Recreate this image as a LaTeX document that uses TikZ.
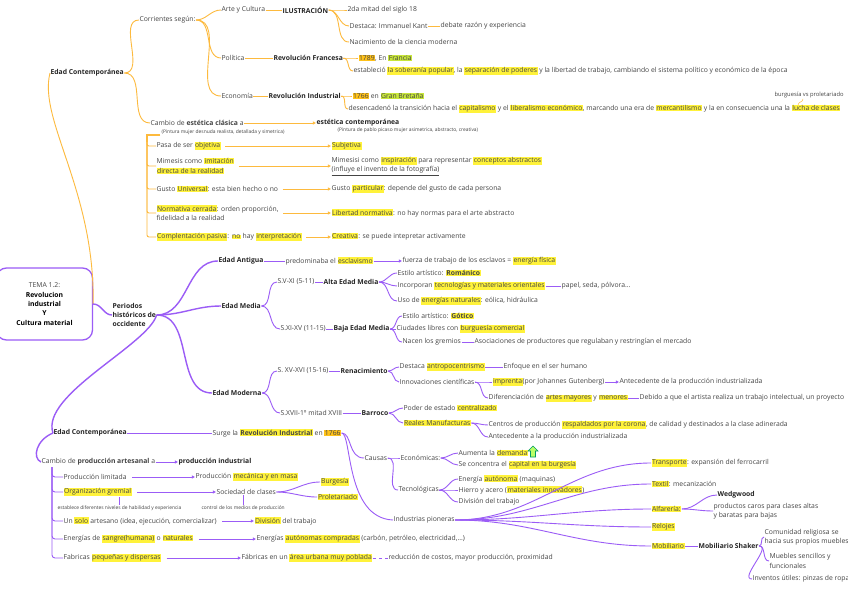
\documentclass[tikz,border=0pt]{standalone}
\usepackage{fontspec}
\setmainfont{Open Sans}
\usetikzlibrary{arrows.meta}
\definecolor{orl}{HTML}{FDBA3E}
\definecolor{pur}{HTML}{9B5CF6}
\definecolor{hly}{HTML}{FFF23A}
\definecolor{hlo}{HTML}{FFC21A}
\definecolor{hlg}{HTML}{C8E63A}
\definecolor{txt}{HTML}{444444}
\newcommand\hy[1]{{\setlength{\fboxsep}{0.5pt}\colorbox{hly}{#1}}}
\newcommand\ho[1]{{\setlength{\fboxsep}{0.5pt}\colorbox{hlo}{#1}}}
\newcommand\hg[1]{{\setlength{\fboxsep}{0.5pt}\colorbox{hlg}{#1}}}
\newcommand\fsz{\fontsize{6.8}{9.3}\selectfont}
\begin{document}
\begin{tikzpicture}[x=1pt,y=-1pt,
  tx/.style={anchor=west,inner sep=0.4pt,text=txt,font=\fsz,align=left},
  bx/.style={tx,font=\fsz\bfseries,text=black!85},
  tn/.style={tx,font=\fontsize{4.9}{5.5}\selectfont},
  ol/.style={draw=orl,line width=0.9pt},
  pl/.style={draw=pur,line width=0.9pt},
  plt/.style={draw=pur,line width=1.4pt},
  arr/.style={-{Triangle[length=3.2pt,width=3pt]}},
  cv/.style={out=0,in=180}]
\useasboundingbox (0,0) rectangle (848,599);
\fill[white] (0,0) rectangle (848,599);

% ---------------- top (orange) ----------------
\node[bx] (EC1) at (50,73) {Edad Contemporánea};
\node[tx] (corr) at (139,20) {Corrientes según:};
\node[tx] (arte) at (221,10) {Arte y Cultura};
\node[tx] (pol) at (221,58) {Política};
\node[tx] (eco) at (221,96) {Economía};
\node[bx] (ilus) at (282,10) {ILUSTRACIÓN};
\node[tx] (s18) at (347,10) {2da mitad del siglo 18};
\node[tx] (kant) at (349,26) {Destaca: Immanuel Kant};
\node[tx] (deb) at (440,26) {debate razón y experiencia};
\node[tx] (nac) at (349,42) {Nacimiento de la ciencia moderna};
\node[bx] (rf) at (273,58) {Revolución Francesa};
\node[tx] (r89) at (358,58) {\ho{1789}, En \hg{Francia}};
\node[tx] (est) at (353,71) {estableció \hy{la soberanía popular}, la \hy{separación de poderes} y la libertad de trabajo, cambiando el sistema político y económico de la época};
\node[bx] (ri) at (268,96) {Revolución Industrial};
\node[tx] (r66) at (352,96) {\ho{1766} en \hg{Gran Bretaña}};
\node[tx] (des) at (348,109) {desencadenó la transición hacia el \hy{capitalismo} y el \hy{liberalismo económico}, marcando una era de \hy{mercantilismo} y la en consecuencia una la \hy{lucha de clases}};
\node[tx,font=\fontsize{5.8}{6.5}\selectfont] (bvp) at (774,95) {burguesía vs proletariado};
\coordinate (lc) at (798,105);
\coordinate (lt) at (803,99);
\node[tx] (cea) at (150,123) {Cambio de \textbf{estética clásica} a};
\node[bx] (ecn) at (316,123) {estética contemporánea};
\node[tn] (n1) at (161,132) {(Pintura mujer desnuda realista, detallada y simetrica)};
\node[tn] (n2) at (337,130) {(Pintura de pablo picaso mujer asimetrica, abstracto, creativa)};

\node[tx] (L1) at (156,146) {Pasa de ser \hy{objetiva}};
\node[tx] (L2) at (156,166) {Mimesis como \hy{imitación}\\\hy{directa de la realidad}};
\node[tx] (L3) at (156,189) {Gusto \hy{Universal}: esta bien hecho o no};
\node[tx] (L4) at (156,213) {\hy{Normativa cerrada}: orden proporción,\\fidelidad a la realidad};
\node[tx] (L5) at (156,237) {\hy{Complentación pasiva}: \hy{no} hay \hy{interpretación}};
\node[tx] (R1) at (331,146) {\hy{Subjetiva}};
\node[tx] (R2) at (331,166) {Mimesisi como \hy{inspiración} para representar \hy{conceptos abstractos}\\\underline{(influye el invento de la fotografía)}};
\node[tx] (R3) at (331,189) {Gusto \hy{particular}: depende del gusto de cada persona};
\node[tx] (R4) at (331,213) {\hy{Libertad normativa}: no hay normas para el arte abstracto};
\node[tx] (R5) at (331,237) {\hy{Creativa}: se puede intepretar activamente};

\draw[ol] (EC1.east) to[cv] (corr.west);
\draw[ol] (EC1.east) to[cv] (cea.west);
\foreach \c in {arte,pol,eco} \draw[ol] (corr.east) to[cv] (\c.west);
\draw[ol] (arte.east) -- (ilus.west);
\foreach \c in {s18,kant,nac} \draw[ol] (ilus.east) to[cv] (\c.west);
\draw[ol] (kant.east) -- (deb.west);
\draw[ol] (pol.east) -- (rf.west);
\foreach \c in {r89,est} \draw[ol] (rf.east) to[cv] (\c.west);
\draw[ol] (eco.east) -- (ri.west);
\foreach \c in {r66,des} \draw[ol] (ri.east) to[cv] (\c.west);
\draw[ol,line width=0.5pt] (lc) to[out=90,in=270] (lt);
\draw[ol,arr] (cea.east) -- (ecn.west);
\coordinate (bk) at (147,135);
\draw[ol,line width=1.6pt] (160,135) -- (bk) -- (147,142);
\foreach \c in {L1,L2,L3,L4,L5} \draw[ol,rounded corners=2pt] (bk) |- (\c.west);
\foreach \i in {1,...,5} \draw[ol,arr,shorten <=4pt] (L\i.east) -- (R\i.west);

% ---------------- center ----------------
\node[draw=pur,line width=1.3pt,rounded corners=10pt,minimum width=96,minimum height=72,
      font=\fsz,align=center,inner sep=1pt] (tema) at (44.5,304)
      {\textcolor{txt}{TEMA 1.2:}\\\textbf{Revolucion}\\\textbf{industrial}\\\textbf{Y}\\\textbf{Cultura material}};
\draw[ol] (tema.east) .. controls (95,190) and (38,120) .. (EC1.west);
\node[bx] (per) at (112,315) {Periodos\\históricos de\\occidente};
\draw[plt] (tema.east) to[cv] (per.west);

\node[bx] (ant) at (218,261) {Edad Antigua};
\node[bx] (med) at (221,306) {Edad Media};
\node[bx] (mod) at (212,393) {Edad Moderna};
\node[bx] (ec2) at (53,433) {Edad Contemporánea};
\draw[plt] (per.east) to[cv] (ant.west);
\draw[plt] (per.east) to[cv] (med.west);
\draw[plt] (per.east) to[cv] (mod.west);
\draw[plt] (per.east) .. controls (148,345) and (40,395) .. (ec2.west);

% Edad Antigua
\node[tx] (pre) at (285,261) {predominaba el \hy{esclavismo}};
\node[tx] (fue) at (402,261) {fuerza de trabajo de los esclavos = \hy{energía física}};
\draw[pl] (ant.east) -- (pre.west);
\draw[pl,arr] (pre.east) -- (fue.west);

% Edad Media
\node[tx] (s511) at (277,282) {S.V-XI (5-11)};
\node[bx] (alta) at (323,282) {Alta Edad Media};
\node[tx] (rom) at (397,273) {Estilo artístico: \hy{\textbf{Románico}}};
\node[tx] (inc) at (397,286) {Incorporan \hy{tecnologías y materiales orientales}};
\node[tx] (pap) at (561,286) {papel, seda, pólvora...};
\node[tx] (uso) at (397,301) {Uso de \hy{energías naturales}: eólica, hidráulica};
\node[tx] (s1115) at (280,329) {S.XI-XV (11-15)};
\node[bx] (baja) at (333,329) {Baja Edad Media};
\node[tx] (got) at (402,316) {Estilo artístico: \hy{\textbf{Gótico}}};
\node[tx] (ciu) at (396,329) {Ciudades libres con \hy{burguesía comercial}};
\node[tx] (nac2) at (402,342) {Nacen los gremios};
\node[tx] (aso) at (474,342) {Asociaciones de productores que regulaban y restringían el mercado};
\draw[pl] (med.east) to[cv] (s511.west);
\draw[pl] (med.east) to[cv] (s1115.west);
\draw[pl] (s511.east) -- (alta.west);
\foreach \c in {rom,inc,uso} \draw[pl] (alta.east) to[cv] (\c.west);
\draw[pl] (inc.east) -- (pap.west);
\draw[pl] (s1115.east) -- (baja.west);
\foreach \c in {got,ciu,nac2} \draw[pl] (baja.east) to[cv] (\c.west);
\draw[pl] (nac2.east) -- (aso.west);

% Edad Moderna
\node[tx] (s1516) at (277,371) {S. XV-XVI (15-16)};
\node[bx] (ren) at (340,371) {Renacimiento};
\node[tx] (dest) at (399,367) {Destaca \hy{antropocentrismo}};
\node[tx] (enf) at (503,367) {Enfoque en el ser humano};
\node[tx] (inn) at (399,382) {Innovaciones científicas};
\node[tx] (imp) at (492,382) {\hy{imprenta}(por Johannes Gutenberg)};
\node[tx] (an2) at (619,382) {Antecedente de la producción industrializada};
\node[tx] (dif) at (488,398) {Diferenciación de \hy{artes mayores} y \hy{menores}};
\node[tx] (deb2) at (639,398) {Debido a que el artista realiza un trabajo intelectual, un proyecto};
\node[tx] (s17) at (280,413) {S.XVII-1º mitad XVIII};
\node[bx] (bar) at (361,413) {Barroco};
\node[tx] (pod) at (403,408) {Poder de estado \hy{centralizado}};
\node[tx] (rea) at (403,423) {\hy{Reales Manufacturas}};
\node[tx] (cen) at (488,425) {Centros de producción \hy{respaldados por la corona}, de calidad y destinados a la clase adinerada};
\node[tx] (an3) at (488,437) {Antecedente a la producción industrializada};
\draw[pl] (mod.east) to[cv] (s1516.west);
\draw[pl] (mod.east) to[cv] (s17.west);
\draw[pl] (s1516.east) -- (ren.west);
\foreach \c in {dest,inn} \draw[pl] (ren.east) to[cv] (\c.west);
\draw[pl] (dest.east) -- (enf.west);
\foreach \c in {imp,dif} \draw[pl] (inn.east) to[cv] (\c.west);
\draw[pl,arr] (imp.east) -- (an2.west);
\draw[pl] (dif.east) -- (deb2.west);
\draw[pl] (s17.east) -- (bar.west);
\foreach \c in {pod,rea} \draw[pl] (bar.east) to[cv] (\c.west);
\foreach \c in {cen,an3} \draw[pl] (rea.east) to[cv] (\c.west);

% Edad Contemporanea
\node[tx] (sur) at (212,433) {Surge la \hy{\textbf{Revolución Industrial}} en \ho{1766}};
\draw[pl] (ec2.east) -- (sur.west);
\node[tx] (cau) at (364,458) {Causas};
\node[tx] (econ) at (400,458) {Económicas:};
\node[tx] (aum) at (458,453) {Aumenta la \hy{demanda}};
\node[tx] (con) at (458,465) {Se concentra el \hy{capital en la burgesía}};
\node[tx] (tec) at (398,490) {Tecnológicas};
\node[tx] (ene) at (458,479) {Energía \hy{autónoma} (maquinas)};
\node[tx] (hie) at (458,490) {Hierro y acero (\hy{materiales innovadores})};
\node[tx] (div) at (458,502) {División del trabajo};
\node[tx] (ind) at (393,520) {Industrias pioneras};
\draw[pl] (sur.east) .. controls (352,433) and (348,458) .. (cau.west);
\draw[pl] (sur.east) .. controls (352,433) and (345,518) .. (ind.west);
\foreach \c in {econ,tec} \draw[pl] (cau.east) to[cv] (\c.west);
\foreach \c in {aum,con} \draw[pl] (econ.east) to[cv] (\c.west);
\foreach \c in {ene,hie,div} \draw[pl] (tec.east) to[cv] (\c.west);
\filldraw[fill=green!45!yellow!60,draw=teal!80!green,line width=0.6pt]
  (533,446) -- (538,451) -- (535.5,451) -- (535.5,457) -- (530.5,457) -- (530.5,451) -- (528,451) -- cycle;

\node[tx] (tra) at (651,463) {\hy{Transporte}: expansión del ferrocarril};
\node[tx] (tex) at (651,484) {\hy{Textil}: mecanización};
\node[tx] (alf) at (651,509) {\hy{Alfarería:}};
\node[bx] (wed) at (717,495) {Wedgwood};
\node[tx] (pro) at (713,511) {productos caros para clases altas\\y baratas para bajas};
\node[tx] (rel) at (651,527) {\hy{Relojes}};
\node[tx] (mob) at (651,546) {\hy{Mobiliario}};
\node[bx] (sha) at (698,546) {Mobiliario Shaker};
\node[tx] (com) at (764,537) {Comunidad religiosa se\\hacia sus propios muebles};
\node[tx] (mue) at (769,561) {Muebles sencillos y\\funcionales};
\node[tx] (inv) at (752,579) {Inventos útiles: pinzas de ropa};
\foreach \c in {tra,tex,alf,rel,mob} \draw[pl] (ind.east) to[cv] (\c.west);
\foreach \c in {wed,pro} \draw[pl] (alf.east) to[cv] (\c.west);
\draw[pl] (mob.east) -- (sha.west);
\foreach \c in {com,mue,inv} \draw[pl] (sha.east) to[cv] (\c.west);

% lower left
\node[tx] (cam2) at (41,462) {Cambio de \textbf{producción artesanal} a};
\node[bx] (pin) at (178,462) {producción industrial};
\draw[plt] (ec2.west) .. controls (36,440) and (32,458) .. (cam2.west);
\draw[pl,arr] (cam2.east) -- (pin.west);
\node[tx] (a1) at (63,477) {Producción limitada};
\node[tx] (b1) at (195,477) {Producción \hy{mecánica y en masa}};
\node[tx] (a2) at (63,492) {\hy{Organización gremial}};
\node[tx] (b2) at (216,492) {Sociedad de clases};
\node[tx] (bur) at (320,482) {\hy{Burgesía}};
\node[tx] (prol) at (317,497) {\hy{Proletariado}};
\node[tn] (na2) at (57,508) {establece diferentes niveles de habilidad y experiencia};
\node[tn] (nb2) at (201,508) {control de los medios de producción};
\node[tx] (a3) at (63,521) {Un \hy{solo} artesano (idea, ejecución, comercializar)};
\node[tx] (b3) at (254,521) {\hy{División} del trabajo};
\node[tx] (a4) at (63,539) {Energías de \hy{sangre(humana)} o \hy{naturales}};
\node[tx] (b4) at (256,539) {Energías \hy{autónomas compradas} (carbón, petróleo, electricidad,...)};
\node[tx] (a5) at (63,558) {Fabricas \hy{pequeñas y dispersas}};
\node[tx] (b5) at (241,558) {Fábricas en un \hy{área urbana muy poblada}};
\node[tx] (c5) at (388,558) {reducción de costos, mayor producción, proximidad};
\coordinate (vb) at (52,467);
\foreach \i in {1,...,5} {
  \draw[pl,rounded corners=3pt] (vb) |- (a\i.west);
  \draw[pl,arr,shorten <=5pt] (a\i.east) -- (b\i.west);
}
\foreach \c in {bur,prol} \draw[pl] (b2.east) to[cv] (\c.west);
\draw[pl] (na2.north) -- (na2.north |- a2.south);
\draw[pl] (nb2.north) -- (nb2.north |- b2.south);
\draw[pl,dashed] (b5.east) -- (c5.west);
\end{tikzpicture}
\end{document}
